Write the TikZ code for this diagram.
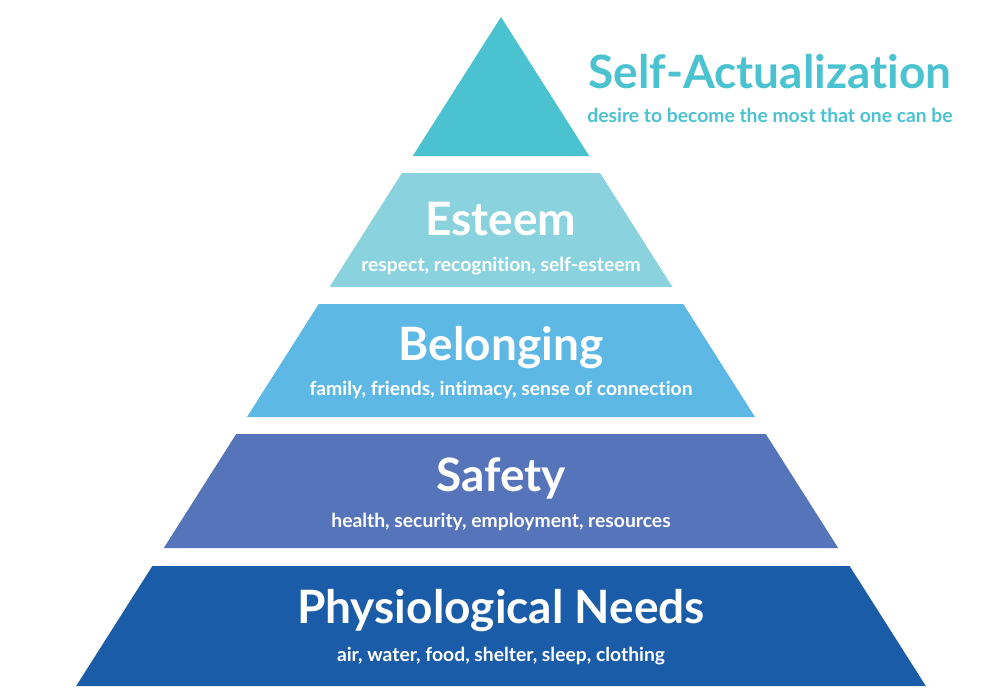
\documentclass[tikz,border=0pt]{standalone}
\usepackage{fontspec}
\setmainfont{Lato}[Ligatures=NoCommon]
\usetikzlibrary{positioning}
\definecolor{PeakTeal}{HTML}{4BC2D0}
\definecolor{EsteemAqua}{HTML}{8AD3DE}
\definecolor{BelongSky}{HTML}{5EB8E6}
\definecolor{SafetyBlue}{HTML}{5574BA}
\definecolor{BaseNavy}{HTML}{1B5CA9}

\tikzset{
  level title/.style={anchor=base,text=white,font=\bfseries\fontsize{46}{50}\selectfont,inner sep=0pt},
  level note/.style={anchor=base,text=white,font=\bfseries\fontsize{19.3}{22}\selectfont,inner sep=0pt}
}

\begin{document}
\begin{tikzpicture}[x=1pt,y=-1pt]
  \useasboundingbox[fill=white] (0,0) rectangle (1002,699);
  % pyramid: apex at (501,17), sides widen by 0.635 per unit
  \fill[PeakTeal] (501,17) -- ({501+0.635*139},156) -- ({501-0.635*139},156) -- cycle;
  \foreach \ytop/\ybot/\col in {173/287/EsteemAqua,304/417/BelongSky,434/548/SafetyBlue,566/686/BaseNavy}
    \fill[\col] ({501-0.635*(\ytop-17)},\ytop) -- ({501+0.635*(\ytop-17)},\ytop)
      -- ({501+0.635*(\ybot-17)},\ybot) -- ({501-0.635*(\ybot-17)},\ybot) -- cycle;

  % top level, written beside the peak
  \node[level title,text=PeakTeal] (selfact) at (770,88) {Self-Actualization};
  \node[level note,text=PeakTeal] (selfactnote) at (770,122) {desire to become the most that one can be};

  \node[level title] (esteem) at (501,235) {Esteem};
  \node[level note] (esteemnote) at (501,271) {respect, recognition, self-esteem};

  \node[level title] (belong) at (501,360) {Belonging};
  \node[level note] (belongnote) at (501,395) {family, friends, intimacy, sense of connection};

  \node[level title] (safety) at (501,491) {Safety};
  \node[level note] (safetynote) at (501,527) {health, security, employment, resources};

  \node[level title] (physio) at (501,623) {Physiological Needs};
  \node[level note] (physionote) at (501,661) {air, water, food, shelter, sleep, clothing};
\end{tikzpicture}
\end{document}
